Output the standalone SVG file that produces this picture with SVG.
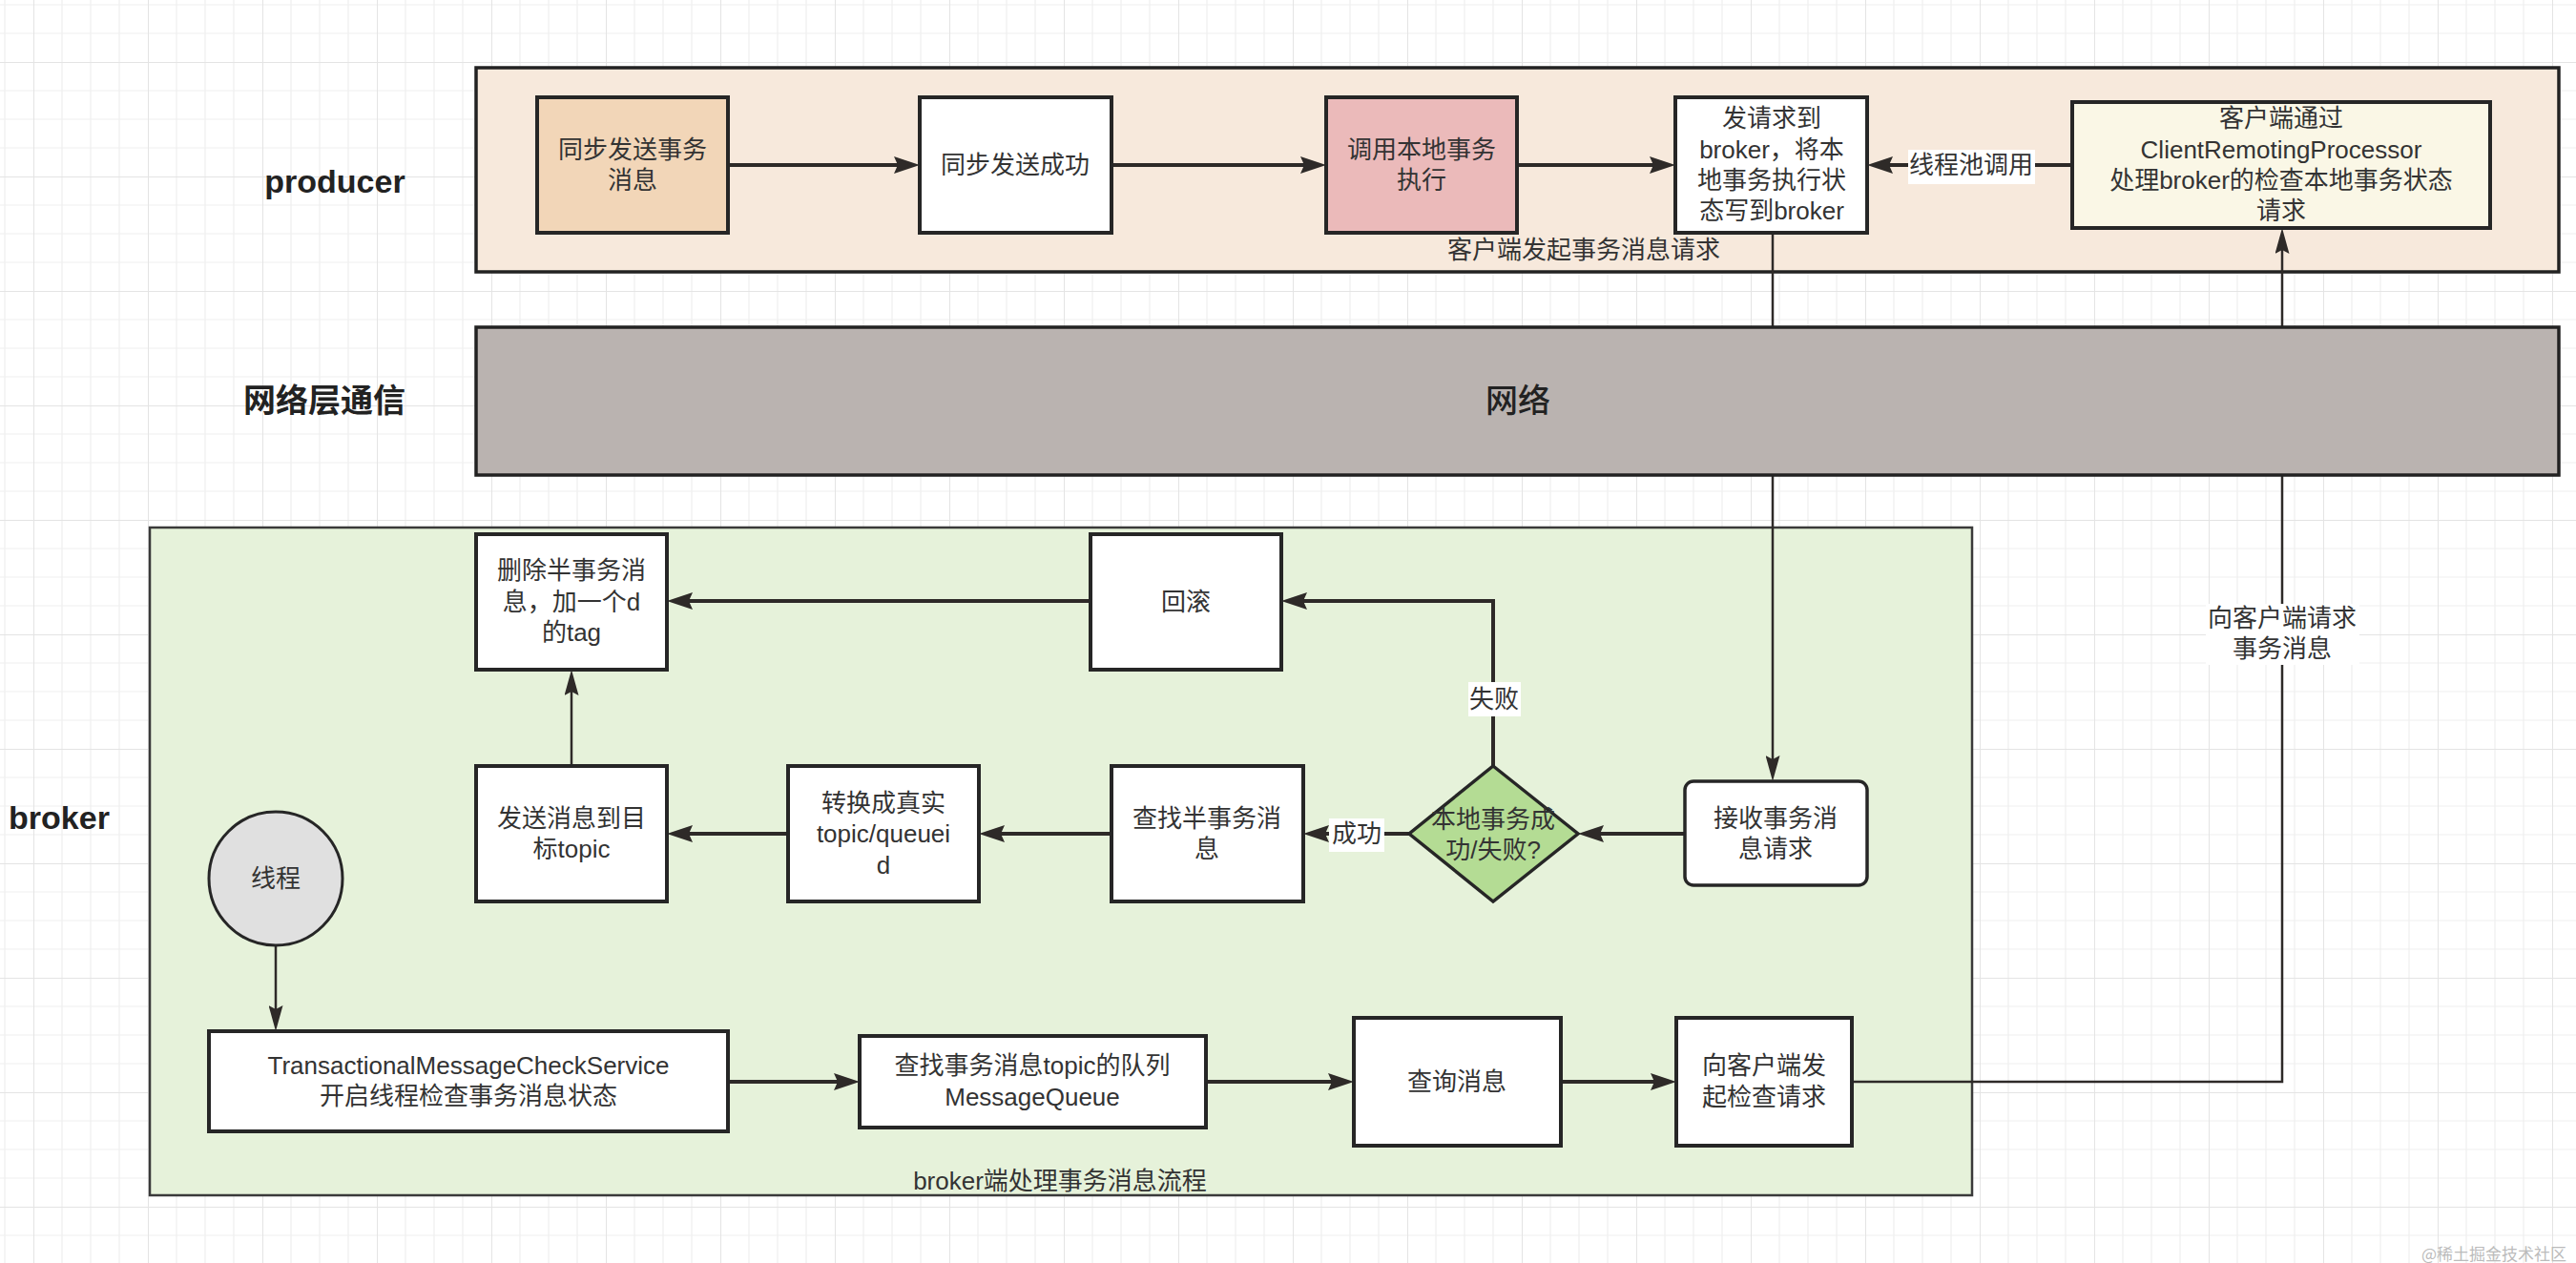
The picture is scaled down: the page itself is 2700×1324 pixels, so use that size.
<svg xmlns="http://www.w3.org/2000/svg" width="2700" height="1324" viewBox="0 0 2700 1324">
<style>
.t{font-family:"Liberation Sans","Noto Sans CJK SC",sans-serif;font-size:26px;fill:#333;text-anchor:middle;dominant-baseline:central}
.lab{font-family:"Liberation Sans","Noto Sans CJK SC",sans-serif;font-size:34px;font-weight:bold;fill:#222;text-anchor:middle;dominant-baseline:central}
.box{stroke:#262626;stroke-width:4}
.e{fill:none;stroke:#2e2a28;stroke-width:4}
.es{fill:none;stroke:#2e2a28;stroke-width:2.5}
.lbg{fill:#fff}
</style>
<defs>
<pattern id="grid" patternUnits="userSpaceOnUse" x="35" y="65" width="120" height="120">
<path d="M30,0V120M60,0V120M90,0V120M0,30H120M0,60H120M0,90H120" stroke="#efefef" stroke-width="1.2" fill="none"/>
<path d="M0,0V120M0,0H120" stroke="#e4e4e4" stroke-width="2" fill="none"/>
</pattern>
<marker id="arr" markerUnits="userSpaceOnUse" viewBox="0 0 27 18" markerWidth="27" markerHeight="18" refX="7" refY="9" orient="auto">
<path d="M0,0L27,9L0,18L4,9z" fill="#2e2a28"/>
</marker>
<marker id="arrs" markerUnits="userSpaceOnUse" viewBox="0 0 27 15" markerWidth="27" markerHeight="15" refX="7" refY="7.5" orient="auto">
<path d="M0,0L27,7.5L0,15L4,7.5z" fill="#2e2a28"/>
</marker>
</defs>
<rect width="2700" height="1324" fill="#fff"/>
<rect width="2700" height="1324" fill="url(#grid)"/>

<text class="lab" x="351" y="190">producer</text>
<text class="lab" x="340" y="420">网络层通信</text>
<text class="lab" x="62" y="857">broker</text>

<g id="producer-container">
<rect x="499" y="71" width="2183" height="214" fill="#f7e9dc" stroke="#222" stroke-width="3.5"/>
<text class="t" x="1660" y="262">客户端发起事务消息请求</text>
</g>
<g id="broker-container">
<rect x="157" y="553" width="1910" height="700" fill="#e6f2da" stroke="#3a3a3a" stroke-width="2.5"/>
<text class="t" x="1111" y="1238">broker端处理事务消息流程</text>
</g>

<g id="connectors">
<path class="e" d="M763,173H944" marker-end="url(#arr)"/>
<path class="e" d="M1165,173H1370" marker-end="url(#arr)"/>
<path class="e" d="M1590,173H1736" marker-end="url(#arr)"/>
<path class="e" d="M2172,173H1977" marker-end="url(#arr)"/>
<rect class="lbg" x="2000" y="157" width="133" height="36"/>
<text class="t" x="2066" y="173">线程池调用</text>
<path class="es" d="M1858,244V799" marker-end="url(#arrs)"/>
<path class="es" d="M1941,1134H2392V259" marker-end="url(#arrs)"/>
<rect class="lbg" x="2312" y="633" width="161" height="64"/>
<text class="t" x="2392" y="648">向客户端请求</text>
<text class="t" x="2392" y="680">事务消息</text>
<path class="e" d="M1766,874H1674" marker-end="url(#arr)"/>
<path class="e" d="M1477,874H1386" marker-end="url(#arr)"/>
<rect class="lbg" x="1393" y="858" width="58" height="35"/>
<text class="t" x="1422" y="874">成功</text>
<path class="e" d="M1565,803V630H1363" marker-end="url(#arr)"/>
<rect class="lbg" x="1539" y="715" width="55" height="36"/>
<text class="t" x="1566" y="733">失败</text>
<path class="e" d="M1143,630H719" marker-end="url(#arr)"/>
<path class="e" d="M1165,874H1046" marker-end="url(#arr)"/>
<path class="e" d="M826,874H719" marker-end="url(#arr)"/>
<path class="es" d="M599,802V722" marker-end="url(#arrs)"/>
<path class="es" d="M289,992V1061" marker-end="url(#arrs)"/>
<path class="e" d="M763,1134H881" marker-end="url(#arr)"/>
<path class="e" d="M1264,1134H1399" marker-end="url(#arr)"/>
<path class="e" d="M1636,1134H1737" marker-end="url(#arr)"/>
</g>

<g id="network">
<rect x="499" y="343" width="2183" height="155" fill="#bab3b0" stroke="#222" stroke-width="3.5"/>
<text class="t" x="1591" y="420" style="font-size:34px;font-weight:500;fill:#222">网络</text>
</g>

<g id="n-sync-send">
<rect class="box" x="563" y="102" width="200" height="142" fill="#f2d6b8"/>
<text class="t" x="663" y="157">同步发送事务</text>
<text class="t" x="663" y="189">消息</text>
</g>
<g id="n-sync-ok">
<rect class="box" x="964" y="102" width="201" height="142" fill="#fff"/>
<text class="t" x="1064" y="173">同步发送成功</text>
</g>
<g id="n-local-exec">
<rect class="box" x="1390" y="102" width="200" height="142" fill="#ebbaba"/>
<text class="t" x="1490" y="157">调用本地事务</text>
<text class="t" x="1490" y="189">执行</text>
</g>
<g id="n-send-req">
<rect class="box" x="1756" y="102" width="201" height="142" fill="#fff"/>
<text class="t" x="1857" y="124">发请求到</text>
<text class="t" x="1857" y="157">broker，将本</text>
<text class="t" x="1857" y="189">地事务执行状</text>
<text class="t" x="1857" y="221">态写到broker</text>
</g>
<g id="n-client-proc">
<rect class="box" x="2172" y="107" width="438" height="132" fill="#faf7e6"/>
<text class="t" x="2391" y="124">客户端通过</text>
<text class="t" x="2391" y="157">ClientRemotingProcessor</text>
<text class="t" x="2391" y="189">处理broker的检查本地事务状态</text>
<text class="t" x="2391" y="221">请求</text>
</g>

<g id="n-delete">
<rect class="box" x="499" y="560" width="200" height="142" fill="#fff"/>
<text class="t" x="599" y="598">删除半事务消</text>
<text class="t" x="599" y="631">息，加一个d</text>
<text class="t" x="599" y="663">的tag</text>
</g>
<g id="n-rollback">
<rect class="box" x="1143" y="560" width="200" height="142" fill="#fff"/>
<text class="t" x="1243" y="631">回滚</text>
</g>
<g id="n-send-target">
<rect class="box" x="499" y="803" width="200" height="142" fill="#fff"/>
<text class="t" x="599" y="858">发送消息到目</text>
<text class="t" x="599" y="890">标topic</text>
</g>
<g id="n-convert">
<rect class="box" x="826" y="803" width="200" height="142" fill="#fff"/>
<text class="t" x="926" y="842">转换成真实</text>
<text class="t" x="926" y="874">topic/queuei</text>
<text class="t" x="926" y="907">d</text>
</g>
<g id="n-find-half">
<rect class="box" x="1165" y="803" width="201" height="142" fill="#fff"/>
<text class="t" x="1265" y="858">查找半事务消</text>
<text class="t" x="1265" y="890">息</text>
</g>
<g id="n-decision">
<path d="M1565,803L1654,874L1565,945L1477,874Z" fill="#b4dc94" stroke="#262626" stroke-width="3.5"/>
<text class="t" x="1565" y="859">本地事务成</text>
<text class="t" x="1565" y="891">功/失败?</text>
</g>
<g id="n-receive">
<rect x="1766" y="819" width="191" height="109" rx="9" fill="#fff" stroke="#262626" stroke-width="3.5"/>
<text class="t" x="1861" y="858">接收事务消</text>
<text class="t" x="1861" y="890">息请求</text>
</g>
<g id="n-thread">
<ellipse cx="289" cy="921" rx="70" ry="70" fill="#e0e0e0" stroke="#262626" stroke-width="3"/>
<text class="t" x="289" y="921">线程</text>
</g>
<g id="n-check-service">
<rect class="box" x="219" y="1081" width="544" height="105" fill="#fff"/>
<text class="t" x="491" y="1117">TransactionalMessageCheckService</text>
<text class="t" x="491" y="1149">开启线程检查事务消息状态</text>
</g>
<g id="n-find-queue">
<rect class="box" x="901" y="1086" width="363" height="96" fill="#fff"/>
<text class="t" x="1082" y="1117">查找事务消息topic的队列</text>
<text class="t" x="1082" y="1150">MessageQueue</text>
</g>
<g id="n-query">
<rect class="box" x="1419" y="1067" width="217" height="134" fill="#fff"/>
<text class="t" x="1527" y="1134">查询消息</text>
</g>
<g id="n-check-req">
<rect class="box" x="1757" y="1067" width="184" height="134" fill="#fff"/>
<text class="t" x="1849" y="1117">向客户端发</text>
<text class="t" x="1849" y="1150">起检查请求</text>
</g>

<text x="2690" y="1313" style="font-family:'Noto Sans CJK SC',sans-serif;font-size:17px;fill:#bbb;text-anchor:end;dominant-baseline:central">@稀土掘金技术社区</text>
</svg>
